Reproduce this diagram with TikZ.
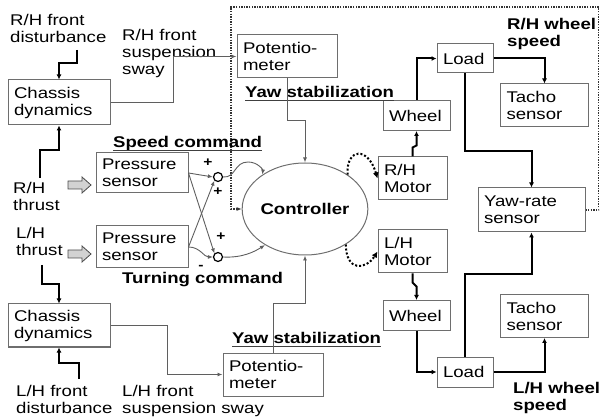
\documentclass[tikz,border=0pt]{standalone}
\usepackage{fontspec}
\setmainfont[FakeStretch=1.2]{Liberation Sans}
\usetikzlibrary{arrows.meta,shapes.geometric}
\definecolor{boxgray}{RGB}{110,110,110}
\definecolor{linegray}{RGB}{95,95,95}
\begin{document}
\begin{tikzpicture}[x=1pt,y=-1pt, font=\fontsize{15.5}{17}\selectfont,
  box/.style={draw=boxgray, line width=1pt, inner xsep=6pt, inner ysep=1pt, align=left},
  lbl/.style={inner sep=0pt, align=left, anchor=base west},
  blbl/.style={lbl, font=\fontsize{15.5}{17}\selectfont\bfseries},
  thin/.style={draw=linegray, line width=0.9pt},
  thinarr/.style={thin, -{Latex[length=5pt,width=4pt]}},
  thickarr/.style={draw=black, line width=2pt, -{Latex[length=5pt,width=5pt]}},
  dotarr/.style={draw=black, line width=2pt, dash pattern=on 2pt off 2pt, -{Latex[length=6pt,width=6pt]}},
  loopline/.style={draw=gray!40!black, line width=1.3pt, dash pattern=on 1.3pt off 1.3pt},
  uline/.style={draw=gray!50!black, line width=1.3pt},
  sum/.style={circle, draw=black, line width=1.2pt, minimum size=9pt, inner sep=0pt},
  sign/.style={inner sep=0pt, font=\fontsize{13}{13}\selectfont\bfseries},
  blockarr/.style={draw=gray!60!black, fill=gray!35, line width=0.8pt},
]
\useasboundingbox (0,0) rectangle (602,419);

% boxes
\node[box, text width=90pt, minimum height=45pt] (chT) at (59,102.5) {Chassis\\dynamics};
\node[box, text width=88pt, minimum height=43pt] (potT) at (287,56.5) {Potentio-\\meter};
\node[box, text width=80pt, minimum height=40pt] (prT) at (142,173) {Pressure\\sensor};
\node[box, text width=80pt, minimum height=42pt] (prB) at (142,247) {Pressure\\sensor};
\node[box, text width=90pt, minimum height=43pt] (chB) at (59,325.5) {Chassis\\dynamics};
\node[box, text width=88pt, minimum height=43pt] (potB) at (273,374.5) {Potentio-\\meter};
\node[box, text width=55pt, minimum height=30pt] (whT) at (416.5,115.5) {Wheel};
\node[box, text width=57pt, minimum height=43pt] (moR) at (412.5,178.5) {R/H\\Motor};
\node[box, text width=44pt, minimum height=29pt] (ldT) at (465,58.5) {Load};
\node[box, text width=76pt, minimum height=43pt] (taT) at (544.5,105.5) {Tacho\\sensor};
\node[box, text width=95pt, minimum height=44pt] (yaw) at (531.5,210) {Yaw-rate\\sensor};
\node[box, text width=57pt, minimum height=43pt] (moL) at (412.5,251.5) {L/H\\Motor};
\node[box, text width=55pt, minimum height=30pt] (whB) at (416.5,315.5) {Wheel};
\node[box, text width=44pt, minimum height=30pt] (ldB) at (465,372) {Load};
\node[box, text width=76pt, minimum height=43pt] (taB) at (544.5,316) {Tacho\\sensor};
\node[ellipse, draw=boxgray, line width=1pt, minimum width=110pt, minimum height=92pt, inner sep=0pt, font=\fontsize{15.5}{17}\selectfont\bfseries] (ctrl) at (305,209) {Controller};
\node[sum] (sT) at (218,177) {};
\node[sum] (sB) at (218,257) {};

% dotted feedback loop from yaw-rate sensor to controller
\draw[loopline, -{Latex[length=5pt,width=4pt]}] (yaw.east) -- ++(13,0) |- (231,7) |- (ctrl.west);

% labels (base = last line's baseline)
\node[lbl] (rhd) at (10,43) {R/H front\\disturbance};
\node[lbl] (rhs) at (122,75) {R/H front\\suspension\\sway};
\node[blbl] (yawT) at (245,98) {Yaw stabilization};
\node[blbl] (speed) at (113,148) {Speed command};
\node[lbl] (rht) at (13,211) {R/H\\thrust};
\node[lbl] (lht) at (16,256) {L/H\\thrust};
\node[blbl] (turn) at (122,284) {Turning command};
\node[blbl] (yawB) at (232,344) {Yaw stabilization};
\node[lbl] (lhd) at (16,413) {L/H front\\disturbance};
\node[lbl] (lhs) at (122,413) {L/H front\\suspension sway};
\node[blbl] (rhw) at (507,47) {R/H wheel\\speed};
\node[blbl] (lhw) at (513,410) {L/H wheel\\speed};
\node[sign] (p1) at (208,163) {+};
\node[sign] (p2) at (218,192) {+};
\node[sign] (p3) at (221,237) {+};
\node[sign] (m1) at (201,267) {-};

\draw[uline] ([yshift=-2.5pt]yawT.base west) -- ([yshift=-2.5pt]yawT.base east);
\draw[uline] ([yshift=-2.5pt]speed.base west) -- ([yshift=-2.5pt]speed.base east);
\draw[uline] ([yshift=-2.5pt]yawB.base west) -- ([yshift=-2.5pt]yawB.base east);

% block arrows
\draw[blockarr] (68,181) -- (82,181) -- (82,177) -- (91,185) -- (82,193) -- (82,189) -- (68,189) -- cycle;
\draw[blockarr] (68,250) -- (82,250) -- (82,246) -- (91,254) -- (82,262) -- (82,258) -- (68,258) -- cycle;

% thick disturbance / thrust arrows
\coordinate (rhdS) at (77,50);
\coordinate (rhtS) at (40,178);
\coordinate (lhtS) at (42,265);
\coordinate (lhdS) at (79,379);
\draw[thickarr] (rhdS) -- ++(0,13) -| (chT.north);
\draw[thickarr] (rhtS) -- ++(0,-28) -| (chT.south);
\draw[thickarr] (lhtS) -- ++(0,19) -| (chB.north);
\draw[thickarr] (lhdS) -- ++(0,-16) -| (chB.south);

% thin connectors
\draw[thinarr] (chT.east) -- ++(63,0) |- (potT.west);
\draw[thinarr] (chB.east) -- ++(57,0) |- (potB.west);
\draw[thinarr] (potT.south) -- ++(0,42) -| (ctrl.north);
\draw[thinarr] (potB.north) -- ++(0,-49) -| (ctrl.south);
\draw[thinarr] (prT.east) -- (sT.west);
\draw[thinarr] (prT.east) -- (sB.north west);
\draw[thinarr] (prB.east) -- (sT.south west);
\draw[thinarr] (prB.east) .. controls (200,247) and (204,257) .. (sB.west);
\draw[thinarr] (sT.east) .. controls (236,178) and (234,162) .. (248,162) .. controls (258,162) and (263,170) .. (ctrl.141);
\draw[thinarr] (sB.east) .. controls (242,258) and (254,252) .. (ctrl.-138);

% right side
\draw[thickarr] (moR.north) -- ++(0,-9) -- ++(4,-2) -- (whT.south);
\draw[thickarr] (moL.south) -- ++(0,9) -- ++(4,4) -- (whB.north);
\draw[thickarr] (whT.north) |- (ldT.west);
\draw[thickarr] (ldT.east) -| (taT.north);
\draw[thickarr] (ldT.south) -- ++(0,78) -| (yaw.north);
\draw[thickarr] (whB.south) |- (ldB.west);
\draw[thickarr] (ldB.east) -| (taB.south);
\draw[thickarr] (ldB.north) -- ++(0,-82) -| (yaw.south);
\draw[dotarr] (ctrl.39) .. controls (346,148) and (368,146) .. (moR.west);
\draw[dotarr] (ctrl.-41) .. controls (346,272) and (366,270) .. (moL.west);
\end{tikzpicture}
\end{document}
